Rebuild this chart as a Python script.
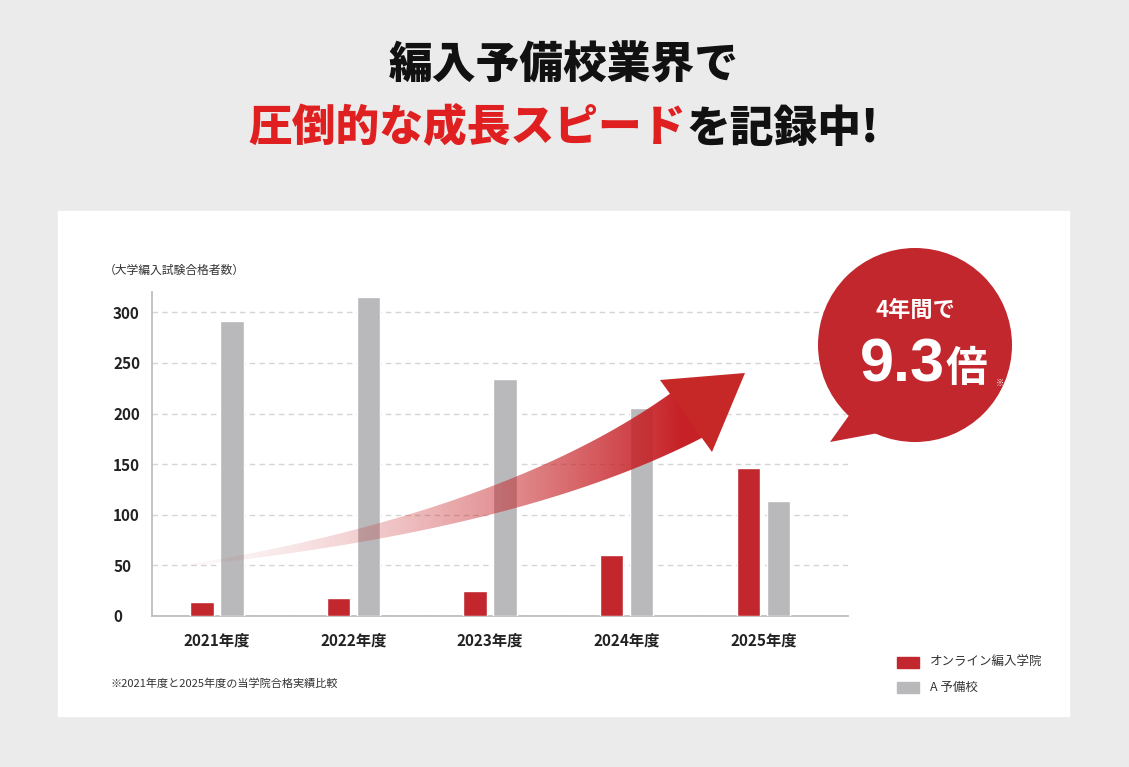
import numpy as np, pandas as pd, seaborn as sns, matplotlib
matplotlib.use("Agg")
import matplotlib.pyplot as plt
from matplotlib.patches import Rectangle, Circle, Polygon

years = ["2021年度", "2022年度", "2023年度", "2024年度", "2025年度"]
online = [14, 18, 25, 60, 146]
ayobi = [291, 315, 234, 205, 114]
series = ["オンライン編入学院", "A予備校"]
colors = ["#c1272d", "#b9b9bb"]

sns.set_theme(style="white")
plt.rcParams['font.family'] = ['Noto Sans CJK JP', 'DejaVu Sans']

W, H = 1129, 767
fig = plt.figure(figsize=(W/100, H/100), dpi=100, facecolor="#ebebeb")
bg = fig.add_axes([0, 0, 1, 1]); bg.set_xlim(0, W); bg.set_ylim(H, 0); bg.axis("off")
bg.add_patch(Rectangle((58, 211), 1011, 505, color="white", zorder=0))

df = pd.DataFrame({"year": years*2, "value": online+ayobi,
                   "series": [series[0]]*5 + [series[1]]*5})
ax = fig.add_axes([152/W, 1-616/H, 696/W, 324/H])
ax.set_facecolor("none")
sns.barplot(data=df, x="year", y="value", hue="series", palette=colors, saturation=1,
            width=0.44, gap=0.22, ax=ax, legend=False, zorder=3)
ax.set_xlim(-0.476, 4.62); ax.set_ylim(0, 320)
ax.set_yticks(range(0, 301, 50))
ax.yaxis.grid(True, ls=(0, (4, 3)), color="#d5d5d5", lw=1)
ax.set_axisbelow(True)
for s in ["top", "right"]: ax.spines[s].set_visible(False)
for s in ["left", "bottom"]: ax.spines[s].set_color("#bbbbbb")
ax.set_xlabel(""); ax.set_ylabel("")
ax.tick_params(length=0, labelsize=11, colors="#222222", pad=12)
for t in ax.get_xticklabels() + ax.get_yticklabels(): t.set_fontweight("bold")
ax.tick_params(axis="y", pad=28)
for t in ax.get_yticklabels(): t.set_ha("left")

# overlay for decorations
ov = fig.add_axes([0, 0, 1, 1]); ov.set_xlim(0, W); ov.set_ylim(H, 0); ov.axis("off")
ov.set_facecolor("none")

P0, P1, P2 = np.array([190, 565]), np.array([520, 520]), np.array([695, 410])
ts = np.linspace(0, 1, 200)
pts = np.array([(1-t)**2*P0 + 2*(1-t)*t*P1 + t**2*P2 for t in ts])
d = np.gradient(pts, axis=0)
n = np.stack([-d[:, 1], d[:, 0]], 1) / np.hypot(d[:, 0], d[:, 1])[:, None]
w = 1 + 27*ts**1.2
outline = np.vstack([pts + n*w[:, None], (pts - n*w[:, None])[::-1]])
body = Polygon(outline, closed=True, facecolor="none", edgecolor="none")
ov.add_patch(body)
xs = np.linspace(0, 1, 400)
alpha = np.clip(0.03 + 1.05*xs**1.7, 0, 1)
rgba = np.zeros((1, 400, 4)); rgba[..., 0] = 0.78; rgba[..., 1] = 0.13; rgba[..., 2] = 0.15
rgba[..., 3] = alpha
im = ov.imshow(rgba, extent=(165, 705, 590, 380), aspect="auto", zorder=5, interpolation="bilinear")
im.set_clip_path(body)
ov.set_xlim(0, W); ov.set_ylim(H, 0)
ov.add_patch(Polygon([[745, 373], [660, 380], [712, 452]], color="#c62828", lw=0, zorder=5))

# bubble
ov.add_patch(Polygon([[860, 400], [830, 442], [905, 428]], color="#c1272d", lw=0, zorder=6))
ov.add_patch(Circle((915, 345), 97, color="#c1272d", lw=0, zorder=6))
ov.text(915, 310, "4年間で", color="white", fontsize=16, fontweight="bold", ha="center", va="center", zorder=7)
ov.text(945, 366, "9.3", color="white", fontsize=44, fontweight="bold", ha="right", va="center", zorder=7, family="Liberation Sans")
ov.text(946, 369, "倍", color="white", fontsize=30, fontweight="bold", ha="left", va="center", zorder=7)
ov.text(1000, 383, "※", color="white", fontsize=6, ha="center", va="center", zorder=7)

# titles
ov.text(564, 65, "編入予備校業界で", fontsize=31.5, fontweight="heavy", ha="center", va="center", color="#111111")
ov.text(686, 128, "圧倒的な成長スピード", fontsize=31.5, fontweight="heavy", ha="right", va="center", color="#e02020")
ov.text(686, 128, "を記録中!", fontsize=31.5, fontweight="heavy", ha="left", va="center", color="#111111")

ov.text(104, 270, "（大学編入試験合格者数）", fontsize=8.5, color="#333333", va="center")
ov.text(110, 684, "※2021年度と2025年度の当学院合格実績比較", fontsize=8, color="#333333", va="center")

for (y, lab, c) in [(662, series[0], colors[0]), (687, series[1], colors[1])]:
    ov.add_patch(Rectangle((897, y-5), 22, 11, color=c))
    ov.text(930, y, lab if lab != "A予備校" else "A 予備校", fontsize=9, color="#333333", va="center")

fig.savefig("out.png", dpi=100, facecolor=fig.get_facecolor())
